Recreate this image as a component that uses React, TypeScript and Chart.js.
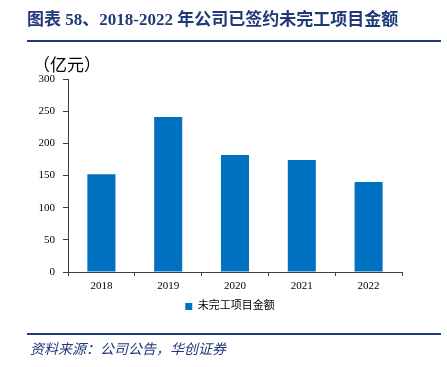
import React, { useEffect, useRef } from "react";
import { Chart, registerables } from "chart.js";

Chart.register(...registerables);

const categories = ["2018", "2019", "2020", "2021", "2022"];
const values = [152, 241, 182, 174, 140];
const seriesName = "未完工项目金额";
const yTicks = [0, 50, 100, 150, 200, 250, 300];
const titleText = "图表 58、2018-2022 年公司已签约未完工项目金额";
const unitText = "（亿元）";
const sourceText = "资料来源：公司公告，华创证券";

const NAVY = "#1f3a78";
const BAR = "#0070c0";
const SERIF = "'Liberation Serif', 'Times New Roman', 'Noto Sans CJK SC', serif";

const legendShift = {
  id: "legendShift",
  afterLayout(chart: any) {
    if (chart.legend) {
      chart.legend.left += 15;
      chart.legend.right += 15;
    }
  },
};

export default function App() {
  const ref = useRef<HTMLCanvasElement | null>(null);

  useEffect(() => {
    if (!ref.current) return;
    const chart = new Chart(ref.current, {
      type: "bar",
      data: {
        labels: categories,
        datasets: [
          {
            label: seriesName,
            data: values,
            backgroundColor: BAR,
            borderWidth: 0,
            categoryPercentage: 1,
            barPercentage: 0.42,
          },
        ],
      },
      plugins: [legendShift],
      options: {
        animation: false,
        responsive: false,
        maintainAspectRatio: false,
        layout: { padding: { left: 28, right: 45, top: 79, bottom: 45 } },
        plugins: {
          tooltip: { enabled: false },
          legend: {
            position: "bottom",
            labels: {
              boxWidth: 7,
              boxHeight: 7,
              padding: 10,
              color: "#000",
              font: { size: 11, family: SERIF },
            },
          },
        },
        scales: {
          x: {
            grid: {
              display: true,
              drawOnChartArea: false,
              drawTicks: true,
              tickLength: 4,
              color: "#404040",
              offset: true,
            },
            border: { display: true, color: "#404040", width: 1 },
            ticks: {
              color: "#000",
              padding: 4,
              font: { size: 11, family: SERIF },
            },
            afterFit: (s: any) => {
              s.height = 19;
            },
          },
          y: {
            min: 0,
            max: 300,
            afterBuildTicks: (s: any) => {
              s.ticks = yTicks.map((v) => ({ value: v }));
            },
            grid: {
              display: true,
              drawOnChartArea: false,
              drawTicks: true,
              tickLength: 5,
              color: "#404040",
            },
            border: { display: true, color: "#404040", width: 1 },
            ticks: {
              color: "#000",
              padding: 8,
              font: { size: 11, family: SERIF },
            },
            afterFit: (s: any) => {
              s.width = 40;
            },
          },
        },
      },
    });
    return () => chart.destroy();
  }, []);

  return (
    <div
      style={{
        position: "fixed",
        left: 0,
        top: 0,
        width: 447,
        height: 367,
        background: "#fff",
        overflow: "hidden",
      }}
    >
      <canvas
        ref={ref}
        width={447}
        height={367}
        style={{ position: "absolute", left: 0, top: 0, width: 447, height: 367 }}
      />
      <div
        style={{
          position: "absolute",
          left: 27,
          top: 9,
          fontFamily: SERIF,
          fontWeight: "bold",
          fontSize: 17,
          color: NAVY,
          whiteSpace: "nowrap",
          lineHeight: "22px",
        }}
      >
        {titleText}
      </div>
      <div
        style={{
          position: "absolute",
          left: 27,
          top: 40,
          width: 414,
          height: 2,
          background: NAVY,
        }}
      />
      <div
        style={{
          position: "absolute",
          left: 33,
          top: 56,
          fontFamily: SERIF,
          fontSize: 17,
          color: "#000",
          whiteSpace: "nowrap",
          lineHeight: "20px",
        }}
      >
        {unitText}
      </div>
      <div
        style={{
          position: "absolute",
          left: 27,
          top: 333,
          width: 414,
          height: 2,
          background: NAVY,
        }}
      />
      <div
        style={{
          position: "absolute",
          left: 30,
          top: 341,
          fontFamily: SERIF,
          fontStyle: "italic",
          fontSize: 14,
          color: NAVY,
          whiteSpace: "nowrap",
          lineHeight: "18px",
        }}
      >
        {sourceText}
      </div>
    </div>
  );
}
